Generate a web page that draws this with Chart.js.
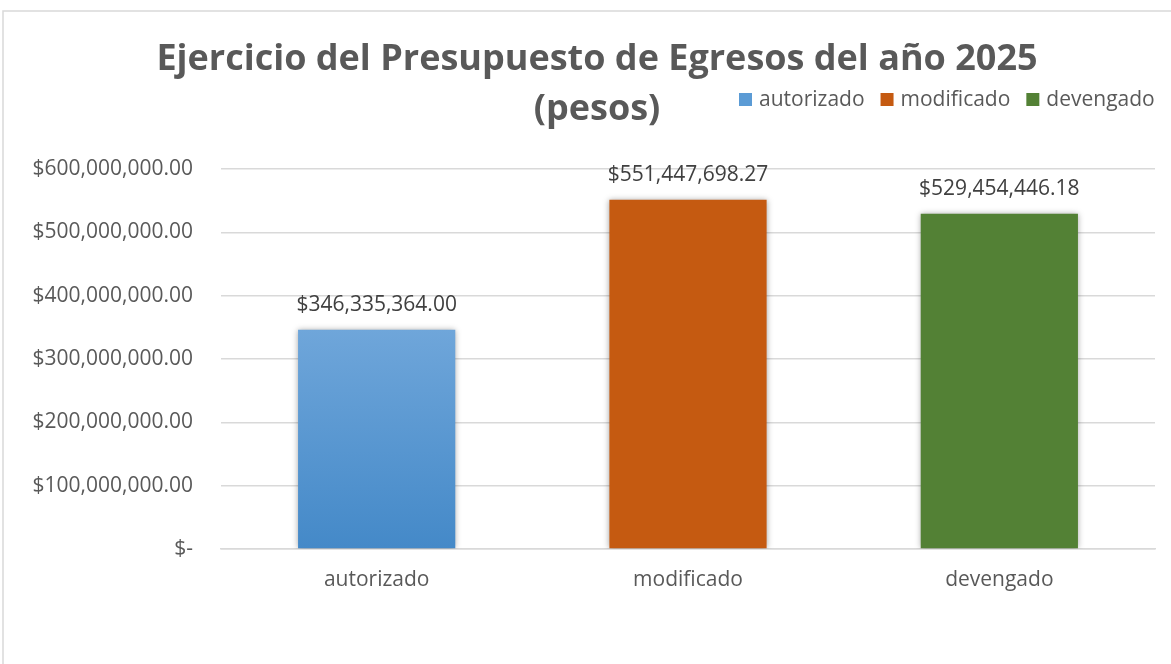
<!DOCTYPE html>
<html>
<head>
<meta charset="utf-8">
<script src="https://cdn.jsdelivr.net/npm/chart.js@4"></script>
<style>
  html,body{margin:0;padding:0;background:#fff;}
  #wrap{position:relative;width:1171px;height:664px;}
</style>
</head>
<body>
<div id="wrap"><canvas id="c" width="1171" height="664"></canvas></div>
<script>
const titleLines = ['Ejercicio del Presupuesto de Egresos del año 2025', '(pesos)'];
const categories = ['autorizado', 'modificado', 'devengado'];
const values = [346335364.00, 551447698.27, 529454446.18];
const yMax = 600000000;
const yStep = 100000000;
const barColors = ['#5b9bd5', '#c55a11', '#538135'];

const FONT = '"Open Sans", "Noto Sans", sans-serif';

function money(v) {
  if (v === 0) return '$-';
  return '$' + v.toLocaleString('en-US', {minimumFractionDigits: 2, maximumFractionDigits: 2});
}

const decorPlugin = {
  id: 'decor',
  beforeDraw(chart) {
    const ctx = chart.ctx;
    ctx.save();
    ctx.strokeStyle = '#d9d9d9';
    ctx.lineWidth = 1.5;
    ctx.strokeRect(3, 11, 1200, 700);
    ctx.restore();
  },
  beforeDatasetsDraw(chart) {
    const ctx = chart.ctx;
    ctx.save();
    ctx.shadowColor = 'rgba(0,0,0,0.35)';
    ctx.shadowBlur = 6;
    ctx.shadowOffsetX = 0;
    ctx.shadowOffsetY = 0;
  },
  afterDatasetsDraw(chart) {
    const ctx = chart.ctx;
    ctx.restore();
    const meta = chart.getDatasetMeta(0);
    ctx.save();
    ctx.font = '21px ' + FONT;
    ctx.fillStyle = '#404040';
    ctx.textAlign = 'center';
    ctx.textBaseline = 'middle';
    meta.data.forEach((bar, i) => {
      ctx.fillText(money(values[i]), bar.x, bar.y - 25);
    });
    ctx.restore();
  },
  afterDraw(chart) {
    const ctx = chart.ctx;
    ctx.save();
    ctx.font = 'bold 36px ' + FONT;
    ctx.fillStyle = '#595959';
    ctx.textAlign = 'center';
    ctx.textBaseline = 'middle';
    ctx.fillText(titleLines[0], 597, 60);
    ctx.fillText(titleLines[1], 597, 110);
    ctx.font = '21px ' + FONT;
    ctx.textAlign = 'left';
    let x = 739;
    const y = 100;
    categories.forEach((c, i) => {
      ctx.fillStyle = barColors[i];
      ctx.fillRect(x, y - 7, 13, 13);
      ctx.fillStyle = '#595959';
      ctx.fillText(c, x + 20, y);
      x += 20 + ctx.measureText(c).width + 16;
    });
    ctx.restore();
  }
};

new Chart(document.getElementById('c'), {
  type: 'bar',
  data: {
    labels: categories,
    datasets: [{
      data: values,
      backgroundColor(context) {
        const chart = context.chart;
        const i = context.dataIndex;
        if (i === 0 && chart.chartArea) {
          const {top, bottom} = chart.chartArea;
          const g = chart.ctx.createLinearGradient(0, top + 160, 0, bottom);
          g.addColorStop(0, '#6fa6da');
          g.addColorStop(1, '#4489c8');
          return g;
        }
        return barColors[i];
      },
      borderWidth: 0,
      categoryPercentage: 1.0,
      barPercentage: 0.505
    }]
  },
  options: {
    responsive: false,
    animation: false,
    devicePixelRatio: 1,
    layout: {padding: {left: 0, right: 16, top: 169, bottom: 0}},
    plugins: {legend: {display: false}, title: {display: false}, tooltip: {enabled: false}},
    scales: {
      x: {
        grid: {display: false, drawTicks: false},
        border: {display: true, color: '#d9d9d9', width: 1.5},
        ticks: {color: '#595959', font: {family: FONT, size: 21}, padding: 18},
        afterFit(scale) { scale.height = 664 - 549; }
      },
      y: {
        min: 0, max: yMax,
        ticks: {stepSize: yStep, color: '#595959', font: {family: FONT, size: 21}, padding: 28,
          callback: (v) => money(v)},
        grid: {color: '#d9d9d9', lineWidth: 1.5, drawTicks: false},
        border: {display: false},
        afterFit(scale) { scale.width = 221; }
      }
    }
  },
  plugins: [decorPlugin]
});
</script>
</body>
</html>
